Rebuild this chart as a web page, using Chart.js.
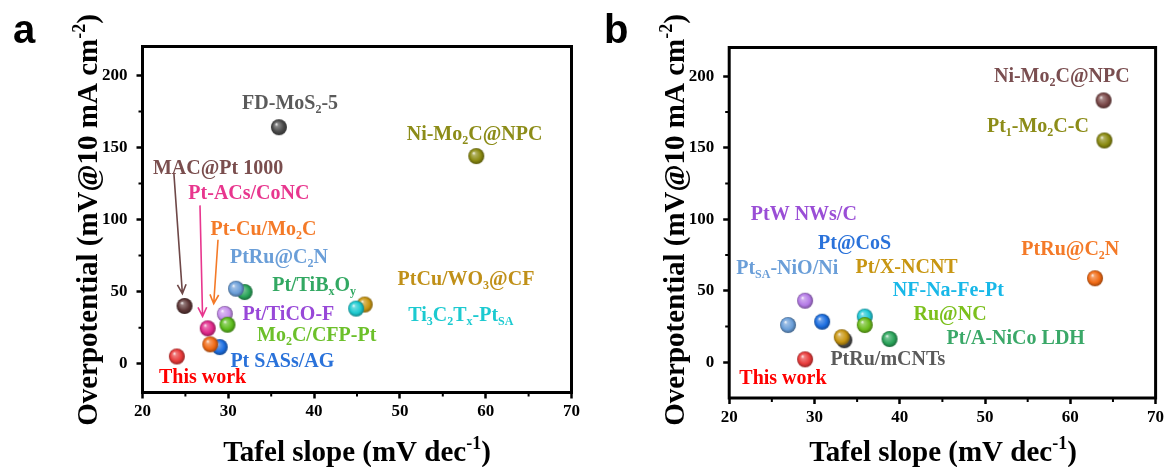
<!DOCTYPE html>
<html>
<head>
<meta charset="utf-8">
<script src="https://cdn.jsdelivr.net/npm/chart.js@4"></script>
<style>
  body { margin: 0; background: #fff; width: 1168px; height: 467px; overflow: hidden; position: relative; }
  .panel { position: absolute; top: 0; width: 584px; height: 467px; }
</style>
</head>
<body>
<div class="panel" style="left:0"><canvas id="chartA"></canvas></div>
<div class="panel" style="left:584px"><canvas id="chartB"></canvas></div>
<script>
// ── Data: panel a (draw order = stacking order) ─────────────────
const aNames  = ['This work', 'MAC@Pt 1000', 'Pt-ACs/CoNC', 'Pt SASs/AG', 'Pt-Cu/Mo2C', 'Pt/TiCO-F',
                 'Mo2C/CFP-Pt', 'Pt/TiBxOy', 'PtRu@C2N', 'FD-MoS2-5', 'PtCu/WO3@CF', 'Ti3C2Tx-PtSA', 'Ni-Mo2C@NPC'];
const aTafel  = [24, 24.9, 27.6, 29, 27.9, 29.6, 29.9, 31.9, 30.9, 35.9, 45.9, 44.9, 58.9];
const aEta    = [5, 40, 24.5, 11.5, 13.4, 34.5, 27, 49.7, 52, 164, 41, 38.2, 144];
const aColors = ['#e83a3a', '#5c3636', '#e0288a', '#1c6ee0', '#f06a14', '#c690ec',
                 '#5cbc1c', '#2aa45a', '#6a9ed8', '#4a4a4a', '#c89612', '#1ccad0', '#8a8a10'];

// ── Data: panel b ───────────────────────────────────────────────
const bNames  = ['This work', 'PtSA-NiO/Ni', 'PtW NWs/C', 'Pt@CoS', 'PtRu/mCNTs', 'Pt/X-NCNT',
                 'NF-Na-Fe-Pt', 'Ru@NC', 'Pt/A-NiCo LDH', 'PtRu@C2N', 'Pt1-Mo2C-C', 'Ni-Mo2C@NPC'];
const bTafel  = [28.9, 26.9, 28.9, 30.9, 33.5, 33.2, 35.9, 35.9, 38.8, 62.9, 64, 63.9];
const bEta    = [2, 26, 43, 28.3, 15.4, 17.5, 31.9, 26, 16.2, 58.7, 155, 183];
const bColors = ['#e83a3a', '#6a9ed8', '#b47ae6', '#1c6ee0', '#4a4a4a', '#c89612',
                 '#20c8d6', '#6cbc1c', '#2aa45a', '#f06a14', '#8a8a10', '#7a4848'];

// ── Axis ticks ──────────────────────────────────────────────────
const xMajor = [20, 30, 40, 50, 60, 70];
const xMinor = [25, 35, 45, 55, 65];
const yMajor = [0, 50, 100, 150, 200];
const yMinor = [25, 75, 125, 175];

// ── Annotations (text, anchor in data units, colour) ────────────
const aLabels = [
  ['FD-MoS_{2}-5', 37.2, 181.5, '#5a5a5a'],
  ['Ni-Mo_{2}C@NPC', 58.7, 160, '#8c8c18'],
  ['MAC@Pt 1000', 28.8, 136.4, '#7a4e4e'],
  ['Pt-ACs/CoNC', 32.4, 119, '#e8368e'],
  ['Pt-Cu/Mo_{2}C', 34.1, 94, '#f47a28'],
  ['PtRu@C_{2}N', 35.9, 74, '#6a9ed8'],
  ['Pt/TiB_{x}O_{y}', 40.0, 55, '#32a862'],
  ['PtCu/WO_{3}@CF', 57.7, 59, '#c09018'],
  ['Pt/TiCO-F', 37.0, 34.7, '#9848d8'],
  ['Ti_{3}C_{2}T_{x}-Pt_{SA}', 57.1, 34, '#1ccad0'],
  ['Mo_{2}C/CFP-Pt', 40.3, 20, '#6cc02a'],
  ['Pt SASs/AG', 36.3, 2.3, '#2a72da'],
  ['This work', 27.0, -9.2, '#ff0000'],
];
const aArrows = [
  [23.66, 131.8, 24.65, 48.6, '#6e4848'],
  [26.7, 109.8, 27.0, 32.8, '#e8368e'],
  [28.8, 86, 28.3, 41.6, '#f47a28'],
];
const bLabels = [
  ['Ni-Mo_{2}C@NPC', 59.0, 200.7, '#7a4e50'],
  ['Pt_{1}-Mo_{2}C-C', 56.2, 165.8, '#8c8c18'],
  ['PtW NWs/C', 28.75, 104, '#9a4ed6'],
  ['Pt@CoS', 34.7, 83.8, '#2a72da'],
  ['PtRu@C_{2}N', 60.0, 79.6, '#f47a28'],
  ['Pt_{SA}-NiO/Ni', 26.8, 66.4, '#6a9ed8'],
  ['Pt/X-NCNT', 40.8, 66.8, '#c89612'],
  ['NF-Na-Fe-Pt', 45.7, 50.5, '#18b8e8'],
  ['Ru@NC', 45.9, 34.2, '#7cc01c'],
  ['Pt/A-NiCo LDH', 53.6, 17.2, '#3aa868'],
  ['PtRu/mCNTs', 38.6, 2.8, '#5a5a5a'],
  ['This work', 26.3, -10.7, '#ff0000'],
];

const SERIF = '"Liberation Serif", "Times New Roman", serif';

// ── Helpers ─────────────────────────────────────────────────────
function shade(hex, f) {
  const n = parseInt(hex.slice(1), 16);
  let r = n >> 16, g = (n >> 8) & 255, b = n & 255;
  if (f > 0) { r += (255 - r) * f; g += (255 - g) * f; b += (255 - b) * f; }
  else { r *= 1 + f; g *= 1 + f; b *= 1 + f; }
  return `rgb(${r | 0},${g | 0},${b | 0})`;
}

// glossy ball used as point style
function sphere(color, r = 8) {
  const c = document.createElement('canvas');
  c.width = c.height = 2 * r + 2;
  const ctx = c.getContext('2d');
  const cx = r + 1, cy = r + 1;
  const g = ctx.createRadialGradient(cx - r * 0.35, cy - r * 0.4, 0, cx, cy, r);
  g.addColorStop(0, 'rgba(255,255,255,0.95)');
  g.addColorStop(0.22, shade(color, 0.35));
  g.addColorStop(0.7, color);
  g.addColorStop(1, shade(color, -0.35));
  ctx.fillStyle = g;
  ctx.beginPath();
  ctx.arc(cx, cy, r, 0, Math.PI * 2);
  ctx.fill();
  return c;
}

// "Mo_{2}C" -> subscript, "cm^{-2}" -> superscript
function parseRich(str) {
  const out = [], re = /([_^])\{([^}]*)\}/g;
  let last = 0, m;
  while ((m = re.exec(str))) {
    if (m.index > last) out.push({ t: str.slice(last, m.index), k: '' });
    out.push({ t: m[2], k: m[1] });
    last = re.lastIndex;
  }
  if (last < str.length) out.push({ t: str.slice(last), k: '' });
  return out;
}

function drawRich(ctx, str, x, y, size, align = 'center') {
  const segs = parseRich(str);
  const fontFor = k => `bold ${k ? Math.round(size * 0.62) : size}px ${SERIF}`;
  let w = 0;
  segs.forEach(s => { ctx.font = fontFor(s.k); s.w = ctx.measureText(s.t).width; w += s.w; });
  let cx = align === 'center' ? x - w / 2 : align === 'right' ? x - w : x;
  ctx.textAlign = 'left';
  ctx.textBaseline = 'alphabetic';
  segs.forEach(s => {
    ctx.font = fontFor(s.k);
    const dy = s.k === '_' ? size * 0.2 : s.k === '^' ? -size * 0.4 : 0;
    ctx.fillText(s.t, cx, y + dy);
    cx += s.w;
  });
}

// ── Plugin: frame, minor ticks, titles, labels, arrows ─────────
const decor = {
  id: 'decor',
  afterDatasetsDraw(chart, args, o) {
    const { ctx, chartArea: a, scales: { x, y } } = chart;
    ctx.save();
    ctx.strokeStyle = '#000';
    ctx.lineWidth = 3;
    ctx.strokeRect(a.left, a.top, a.right - a.left, a.bottom - a.top);

    ctx.lineWidth = 2;
    ctx.beginPath();
    xMinor.forEach(v => { const px = x.getPixelForValue(v); ctx.moveTo(px, a.bottom); ctx.lineTo(px, a.bottom + 4); });
    yMinor.forEach(v => { const py = y.getPixelForValue(v); ctx.moveTo(a.left, py); ctx.lineTo(a.left - 4, py); });
    ctx.stroke();

    // arrows
    (o.arrows || []).forEach(([x0, y0, x1, y1, col]) => {
      const p0x = x.getPixelForValue(x0), p0y = y.getPixelForValue(y0);
      const p1x = x.getPixelForValue(x1), p1y = y.getPixelForValue(y1);
      const ang = Math.atan2(p1y - p0y, p1x - p0x), L = 10, s = 0.45;
      ctx.strokeStyle = col;
      ctx.lineWidth = 1.6;
      ctx.beginPath();
      ctx.moveTo(p0x, p0y); ctx.lineTo(p1x, p1y);
      ctx.moveTo(p1x - L * Math.cos(ang - s), p1y - L * Math.sin(ang - s));
      ctx.lineTo(p1x, p1y);
      ctx.lineTo(p1x - L * Math.cos(ang + s), p1y - L * Math.sin(ang + s));
      ctx.stroke();
    });

    // point labels
    o.labels.forEach(([t, lx, ly, col]) => {
      ctx.fillStyle = col;
      drawRich(ctx, t, x.getPixelForValue(lx), y.getPixelForValue(ly) + 6.5, 20);
    });

    // axis titles + panel letter
    ctx.fillStyle = '#000';
    drawRich(ctx, 'Tafel slope (mV dec^{-1})', o.xTitle, 461, 29);
    ctx.save();
    ctx.translate(o.yTitle, 220);
    ctx.rotate(-Math.PI / 2);
    drawRich(ctx, 'Overpotential (mV@10 mA cm^{-2})', 0, 0, 29);
    ctx.restore();
    ctx.font = 'bold 40px "Liberation Sans", Arial, sans-serif';
    ctx.textAlign = 'left';
    ctx.fillText(o.letter, o.letterX, 43);
    ctx.restore();
  }
};

// ── Chart factory ───────────────────────────────────────────────
function renderPanel(canvasId, tafel, eta, colors, cfg) {
  const tickFont = { family: SERIF, weight: 'bold', size: 17 };
  return new Chart(document.getElementById(canvasId), {
    type: 'scatter',
    data: {
      datasets: [{
        data: tafel.map((t, i) => ({ x: t, y: eta[i] })),
        pointStyle: colors.map(c => sphere(c)),
        pointRadius: 8,
      }]
    },
    options: {
      responsive: false,
      animation: false,
      layout: { autoPadding: false, padding: { left: 0, top: cfg.top, right: 584 - cfg.right, bottom: 0 } },
      plugins: {
        legend: { display: false },
        tooltip: { enabled: false },
        decor: cfg.decor,
      },
      scales: {
        x: {
          type: 'linear', min: 20, max: 70,
          afterBuildTicks: s => { s.ticks = xMajor.map(v => ({ value: v })); },
          afterFit: s => { s.height = 467 - cfg.bottom; },
          grid: { drawOnChartArea: false, tickLength: 6, tickWidth: 2.5, tickColor: '#000' },
          border: { display: false },
          ticks: { font: tickFont, color: '#000', padding: 3, maxRotation: 0 },
        },
        y: {
          type: 'linear', min: cfg.yMin, max: 220,
          afterBuildTicks: s => { s.ticks = yMajor.map(v => ({ value: v })); },
          afterFit: s => { s.width = cfg.left; },
          grid: { drawOnChartArea: false, tickLength: 6, tickWidth: 2.5, tickColor: '#000' },
          border: { display: false },
          ticks: { font: tickFont, color: '#000', padding: 9 },
        }
      }
    },
    plugins: [decor]
  });
}

for (const id of ['chartA', 'chartB']) {
  const cv = document.getElementById(id);
  cv.width = 584; cv.height = 467;
}

renderPanel('chartA', aTafel, aEta, aColors, {
  left: 142.5, right: 571.5, top: 46.5, bottom: 392.5, yMin: -20,
  decor: { labels: aLabels, arrows: aArrows, xTitle: 357, yTitle: 97, letter: 'a', letterX: 13 },
});
renderPanel('chartB', bTafel, bEta, bColors, {
  left: 145.2, right: 571.6, top: 47.5, bottom: 398, yMin: -25,
  decor: { labels: bLabels, arrows: [], xTitle: 359, yTitle: 100, letter: 'b', letterX: 20 },
});
</script>
</body>
</html>
